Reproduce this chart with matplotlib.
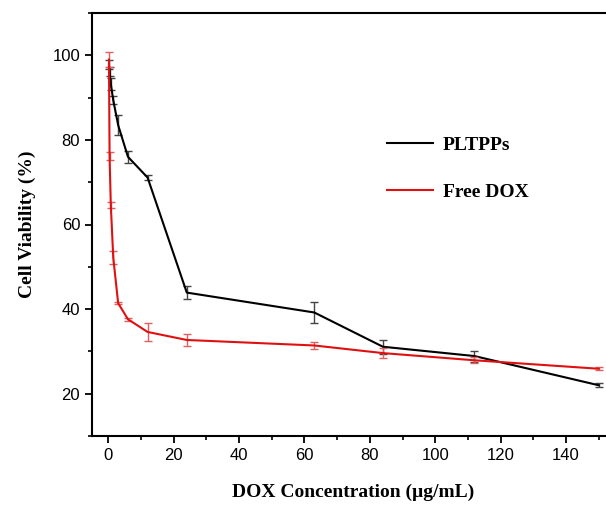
import matplotlib
matplotlib.use("Agg")
import matplotlib.pyplot as plt
from matplotlib.ticker import MultipleLocator
from matplotlib.lines import Line2D

conc = [0.19, 0.375, 0.75, 1.5, 3, 6, 12, 24, 63, 84, 112, 150]
pltpps = [97.8, 96.2, 93.2, 89.4, 83.5, 76.0, 71.1, 43.9, 39.2, 31.1, 28.9, 22.0]
pltpps_err = [1.0, 1.0, 1.5, 1.0, 2.3, 1.4, 0.5, 1.6, 2.4, 1.6, 1.3, 0.5]
dox = [99.0, 76.2, 64.7, 52.2, 41.4, 37.6, 34.6, 32.7, 31.4, 29.6, 27.9, 25.9]
dox_err = [1.8, 1.0, 0.7, 1.5, 0.3, 0.3, 2.2, 1.4, 0.9, 1.2, 0.7, 0.4]
labels = ["PLTPPs", "Free DOX"]

serif = ["Liberation Serif", "DejaVu Serif"]
sans = ["Liberation Sans", "DejaVu Sans"]

fig = plt.figure(figsize=(6.06, 5.08), dpi=100)
ax = fig.add_axes([92/606, 72/508, 523/606, 423/508])

ax.errorbar(conc, pltpps, yerr=pltpps_err, color="black", lw=1.5,
            ecolor="#444444", elinewidth=1.0, capsize=3, capthick=1.0,
            zorder=3)
ax.errorbar(conc, dox, yerr=dox_err, color="#e01010", lw=1.5,
            ecolor="#e06060", elinewidth=1.0, capsize=3, capthick=1.0,
            zorder=4)

ax.set_xlim(-5, 155)
ax.set_ylim(10, 110)
ax.xaxis.set_major_locator(MultipleLocator(20))
ax.xaxis.set_minor_locator(MultipleLocator(10))
ax.yaxis.set_minor_locator(MultipleLocator(10))
ax.set_yticks([20, 40, 60, 80, 100])
ax.tick_params(which="major", direction="out", length=5, width=1.3,
               labelsize=12)
ax.tick_params(which="minor", direction="out", length=3, width=1.2)
for lab in ax.get_xticklabels() + ax.get_yticklabels():
    lab.set_fontfamily(sans)
for sp in ax.spines.values():
    sp.set_linewidth(1.5)

ax.set_xlabel("DOX Concentration (µg/mL)", fontfamily=serif,
              fontweight="bold", fontsize=14, labelpad=15)
ax.set_ylabel("Cell Viability (%)", fontfamily=serif,
              fontweight="bold", fontsize=14, labelpad=12)

h = [Line2D([], [], color="black", lw=1.5),
     Line2D([], [], color="#e01010", lw=1.5)]
ax.legend(h, labels, loc="upper left", bbox_to_anchor=(0.53, 0.75),
          frameon=False, handlelength=2.4, handletextpad=0.5,
          labelspacing=1.5,
          prop={"family": serif, "weight": "bold", "size": 14})

fig.savefig("out.png", dpi=100)
